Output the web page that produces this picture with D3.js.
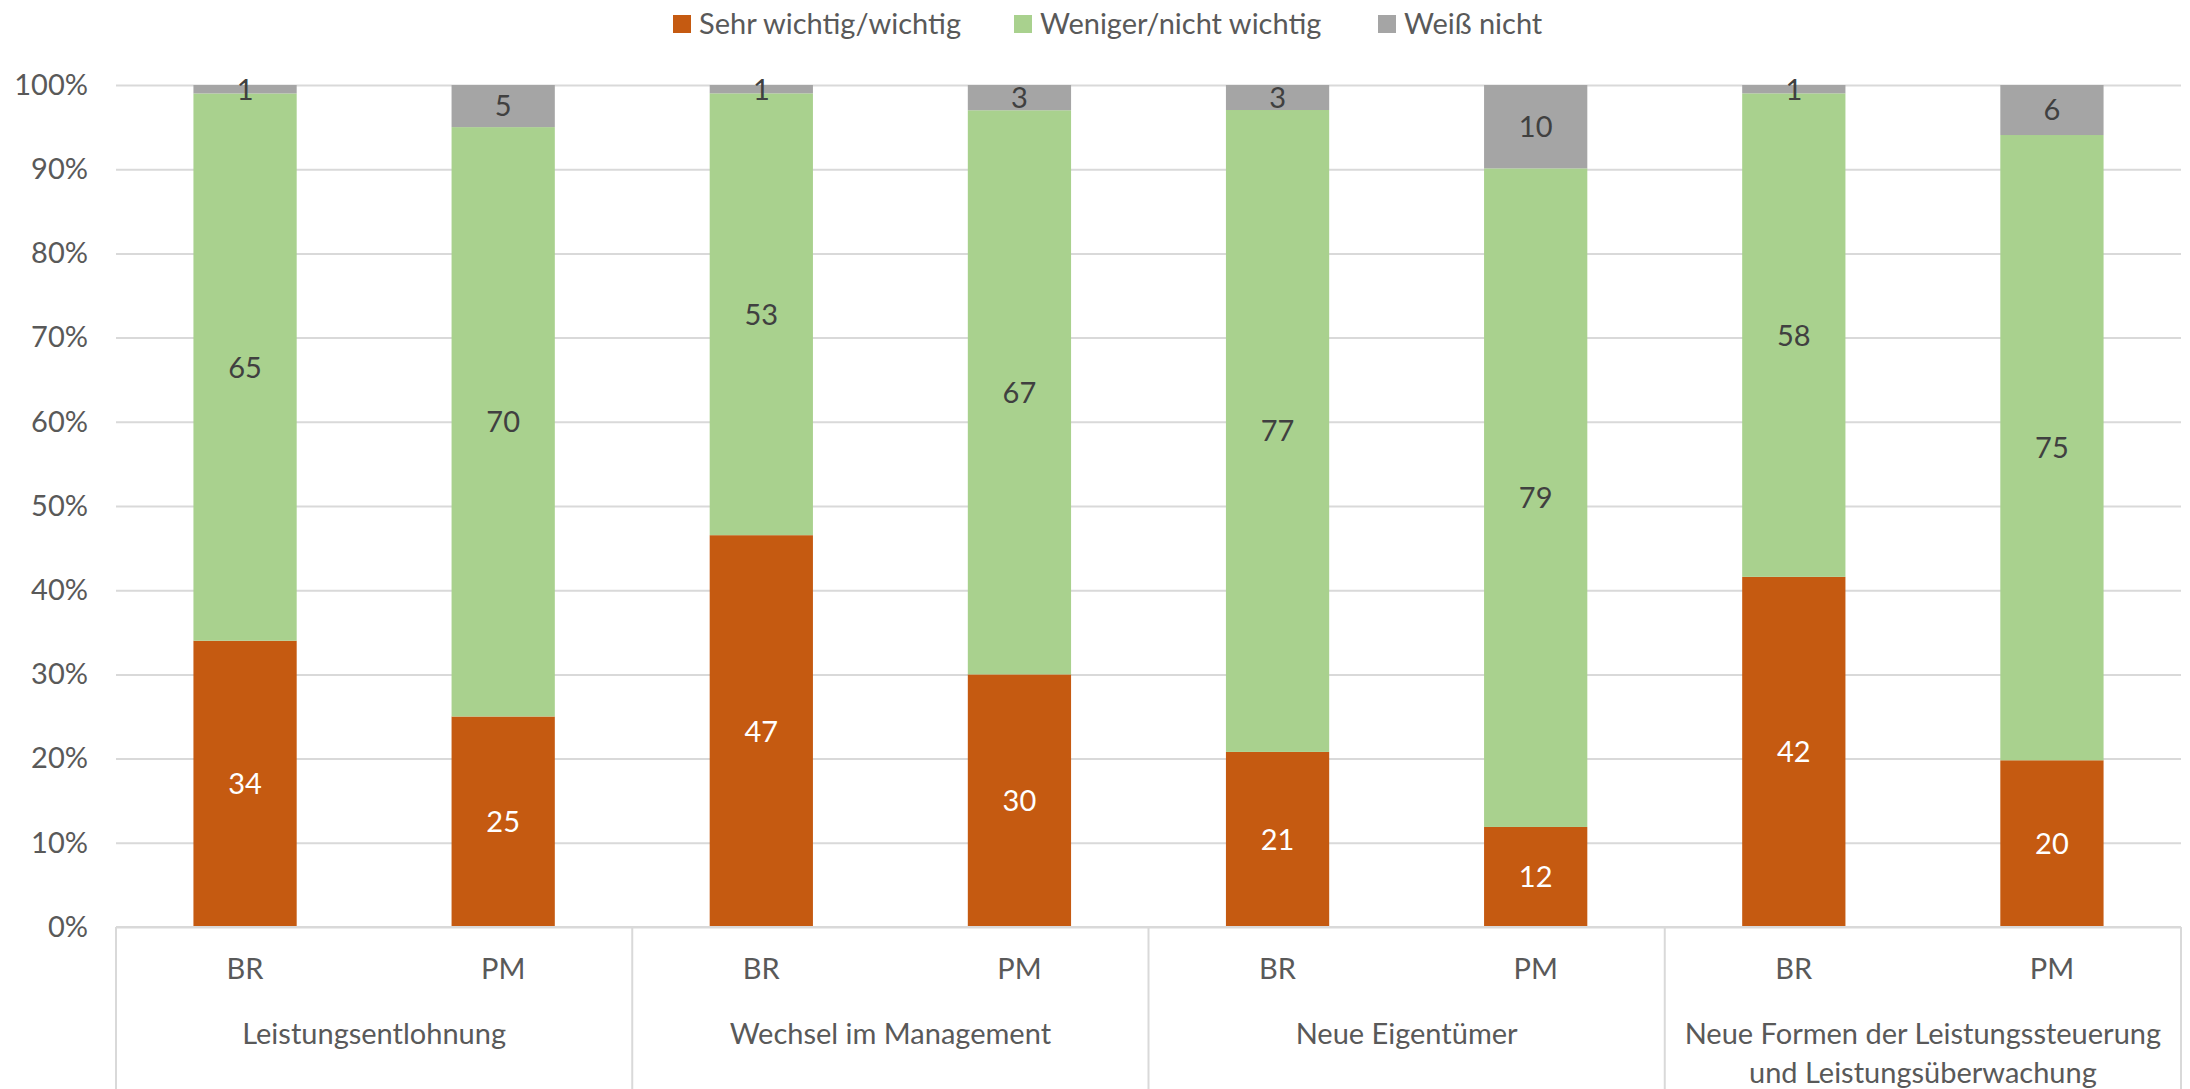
<!DOCTYPE html>
<html>
<head>
<meta charset="utf-8">
<script src="https://cdn.jsdelivr.net/npm/d3@7"></script>
<style>
  html, body { margin: 0; padding: 0; background: #fff; }
  svg { display: block; font-family: Lato, "Open Sans", sans-serif; }
</style>
</head>
<body>
<svg id="chart" width="2190" height="1089"></svg>
<script>
// Survey answers (in %) per topic and respondent group
const groups = ["Leistungsentlohnung", "Wechsel im Management", "Neue Eigentümer",
                ["Neue Formen der Leistungssteuerung", "und Leistungsüberwachung"]];
const respondents = ["BR", "PM"];
const seriesNames = ["Sehr wichtig/wichtig", "Weniger/nicht wichtig", "Weiß nicht"];
const seriesColors = ["#C55A11", "#A9D18E", "#A5A5A5"];
const labelColors = ["#FFFFFF", "#404040", "#404040"];
const important    = [34, 25, 47, 30, 21, 12, 42, 20];
const notImportant = [65, 70, 53, 67, 77, 79, 58, 75];
const dontKnow     = [1, 5, 1, 3, 3, 10, 1, 6];
const yTicks = [0, 10, 20, 30, 40, 50, 60, 70, 80, 90, 100];

const FS = 29;
const svg = d3.select("#chart");
const margin = { left: 116, right: 2181, top: 85, bottom: 927 };

// one bar per (group, respondent) pair, stacked to 100 %
const bars = [];
groups.forEach((g, gi) => respondents.forEach((r, ri) => {
  const i = gi * respondents.length + ri;
  const vals = [important[i], notImportant[i], dontKnow[i]];
  const total = d3.sum(vals);
  let acc = 0;
  const segs = vals.map((v, si) => {
    const y0 = acc / total * 100;
    acc += v;
    return { series: si, value: v, y0: y0, y1: acc / total * 100 };
  });
  bars.push({ key: i, group: gi, resp: r, segs });
}));

const x = d3.scaleBand().domain(bars.map(b => b.key))
  .range([margin.left, margin.right]).paddingInner(0.6).paddingOuter(0.3);
const y = d3.scaleLinear().domain([0, 100]).range([margin.bottom, margin.top]);

// gridlines and percent ticks
const yAxis = d3.axisLeft(y).tickValues(yTicks).tickFormat(d => d + "%")
  .tickSize(-(margin.right - margin.left)).tickPadding(28);
const ga = svg.append("g").attr("transform", `translate(${margin.left},0)`).call(yAxis);
ga.select(".domain").remove();
ga.selectAll(".tick line").attr("stroke", "#D9D9D9").attr("stroke-width", 2);
ga.selectAll(".tick text").attr("fill", "#595959").attr("font-size", FS)
  .attr("font-family", "Lato, 'Open Sans', sans-serif");

// stacked bars with value labels
const bg = svg.append("g");
bars.forEach(b => {
  const cx = x(b.key) + x.bandwidth() / 2;
  b.segs.forEach(s => {
    bg.append("rect")
      .attr("x", x(b.key)).attr("width", x.bandwidth())
      .attr("y", y(s.y1)).attr("height", y(s.y0) - y(s.y1))
      .attr("fill", seriesColors[s.series]);
  });
  b.segs.forEach(s => {
    bg.append("text")
      .attr("x", cx).attr("y", y((s.y0 + s.y1) / 2))
      .attr("dy", "0.36em").attr("text-anchor", "middle")
      .attr("font-size", FS).attr("fill", labelColors[s.series])
      .text(s.value);
  });
});

// category axis: baseline, group separators, labels
const axisG = svg.append("g");
axisG.append("line").attr("x1", margin.left).attr("x2", margin.right)
  .attr("y1", margin.bottom).attr("y2", margin.bottom)
  .attr("stroke", "#D9D9D9").attr("stroke-width", 2);
const gw = (margin.right - margin.left) / groups.length;
d3.range(groups.length + 1).forEach(i => {
  axisG.append("line")
    .attr("x1", margin.left + i * gw).attr("x2", margin.left + i * gw)
    .attr("y1", margin.bottom).attr("y2", 1089)
    .attr("stroke", "#D9D9D9").attr("stroke-width", 2);
});
bars.forEach(b => {
  axisG.append("text")
    .attr("x", x(b.key) + x.bandwidth() / 2).attr("y", 979)
    .attr("text-anchor", "middle").attr("font-size", FS).attr("fill", "#595959")
    .text(b.resp);
});
groups.forEach((g, gi) => {
  const lines = Array.isArray(g) ? g : [g];
  const t = axisG.append("text")
    .attr("x", margin.left + (gi + 0.5) * gw).attr("y", 1044)
    .attr("text-anchor", "middle").attr("font-size", FS).attr("fill", "#595959");
  lines.forEach((l, li) => t.append("tspan")
    .attr("x", margin.left + (gi + 0.5) * gw).attr("dy", li === 0 ? 0 : 39).text(l));
});

// legend
const legendX = [673, 1014, 1378];
const lg = svg.append("g");
seriesNames.forEach((n, i) => {
  lg.append("rect").attr("x", legendX[i]).attr("y", 15).attr("width", 18).attr("height", 18)
    .attr("fill", seriesColors[i]);
  lg.append("text").attr("x", legendX[i] + 26).attr("y", 24).attr("dy", "0.36em")
    .attr("font-size", FS).attr("fill", "#595959").text(n);
});
</script>
</body>
</html>
